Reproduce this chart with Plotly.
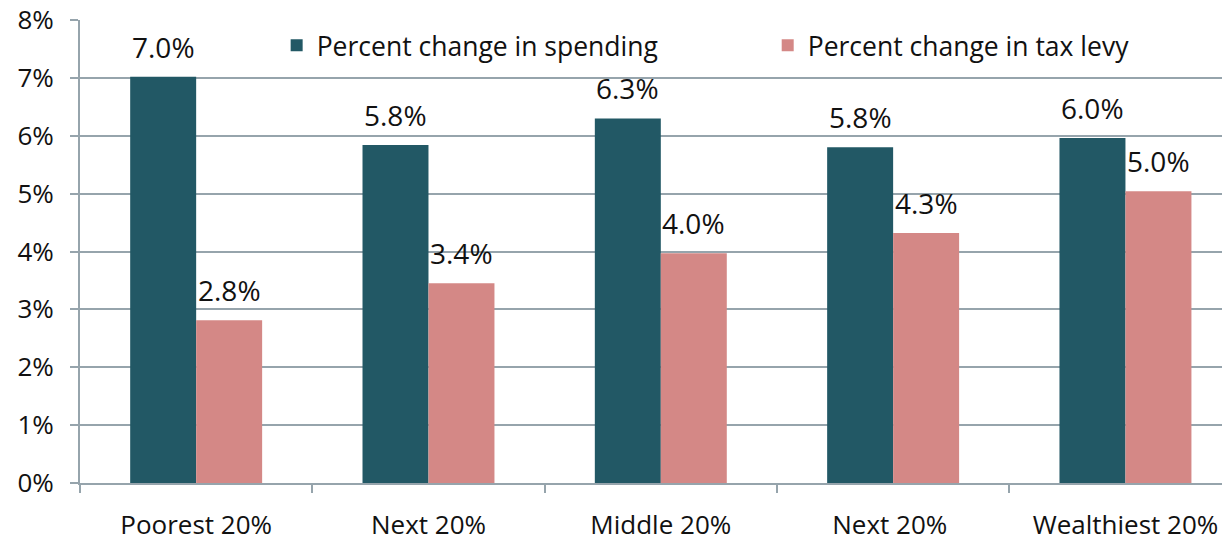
import plotly.graph_objects as go

categories = ["Poorest 20%", "Next 20%", "Middle 20%", "Next 20% ", "Wealthiest 20%"]
spending = [7.02, 5.84, 6.30, 5.80, 5.96]
tax_levy = [2.81, 3.45, 3.97, 4.32, 5.04]
spending_labels = ["7.0%", "5.8%", "6.3%", "5.8%", "6.0%"]
tax_labels = ["2.8%", "3.4%", "4.0%", "4.3%", "5.0%"]
y_ticks = [0, 1, 2, 3, 4, 5, 6, 7, 8]
y_ticktext = ["0%", "1%", "2%", "3%", "4%", "5%", "6%", "7%", "8%"]

DARK = "#225865"
PINK = "#D48886"
GRID = "#96A4AC"
FONT = "Open Sans"

fig = go.Figure()
fig.add_trace(go.Bar(x=categories, y=spending, name="Percent change in spending",
                     marker=dict(color=DARK, line=dict(width=0)), legend="legend"))
fig.add_trace(go.Bar(x=categories, y=tax_levy, name="Percent change in tax levy",
                     marker=dict(color=PINK, line=dict(width=0)), legend="legend2"))

for c, v, t in zip(categories, spending, spending_labels):
    fig.add_annotation(x=c, y=v, text=t, showarrow=False, xshift=-33, yshift=30,
                       yanchor="middle", font=dict(size=28, color="#111111", family=FONT))
for c, v, t in zip(categories, tax_levy, tax_labels):
    fig.add_annotation(x=c, y=v, text=t, showarrow=False, xshift=33, yshift=30,
                       yanchor="middle", font=dict(size=28, color="#111111", family=FONT))

legend_common = dict(orientation="h", y=0.945, xanchor="left", yanchor="middle",
                     font=dict(size=26.5, family=FONT, color="#111111"),
                     bgcolor="rgba(255,255,255,1)")

fig.update_layout(
    width=1222, height=534,
    margin=dict(l=72, r=0, t=12, b=59, autoexpand=False),
    paper_bgcolor="white", plot_bgcolor="white",
    barmode="group", bargap=0.432, bargroupgap=0,
    font=dict(family=FONT, color="#111111"),
    showlegend=True,
    legend=dict(x=0.171, **legend_common),
    legend2=dict(x=0.598, **legend_common),
)
fig.update_xaxes(
    type="category", range=[-0.5, 4.45], automargin=False,
    tickson="boundaries", ticks="outside", ticklen=8, tickcolor=GRID, tickwidth=2,
    showline=True, linecolor=GRID, linewidth=2,
    showgrid=False, ticklabelstandoff=18, ticklabeloverflow="allow",
    tickfont=dict(size=26, family=FONT, color="#111111"),
)
fig.update_yaxes(
    range=[0, 8], tickvals=y_ticks, ticktext=y_ticktext, automargin=False,
    ticks="outside", ticklen=8, tickcolor=GRID, tickwidth=2,
    showline=True, linecolor=GRID, linewidth=2,
    showgrid=True, gridcolor=GRID, gridwidth=2, zeroline=False,
    ticklabelstandoff=11, ticklabeloverflow="allow",
    tickfont=dict(size=26, family=FONT, color="#111111"),
)

fig.write_html("out.html")
